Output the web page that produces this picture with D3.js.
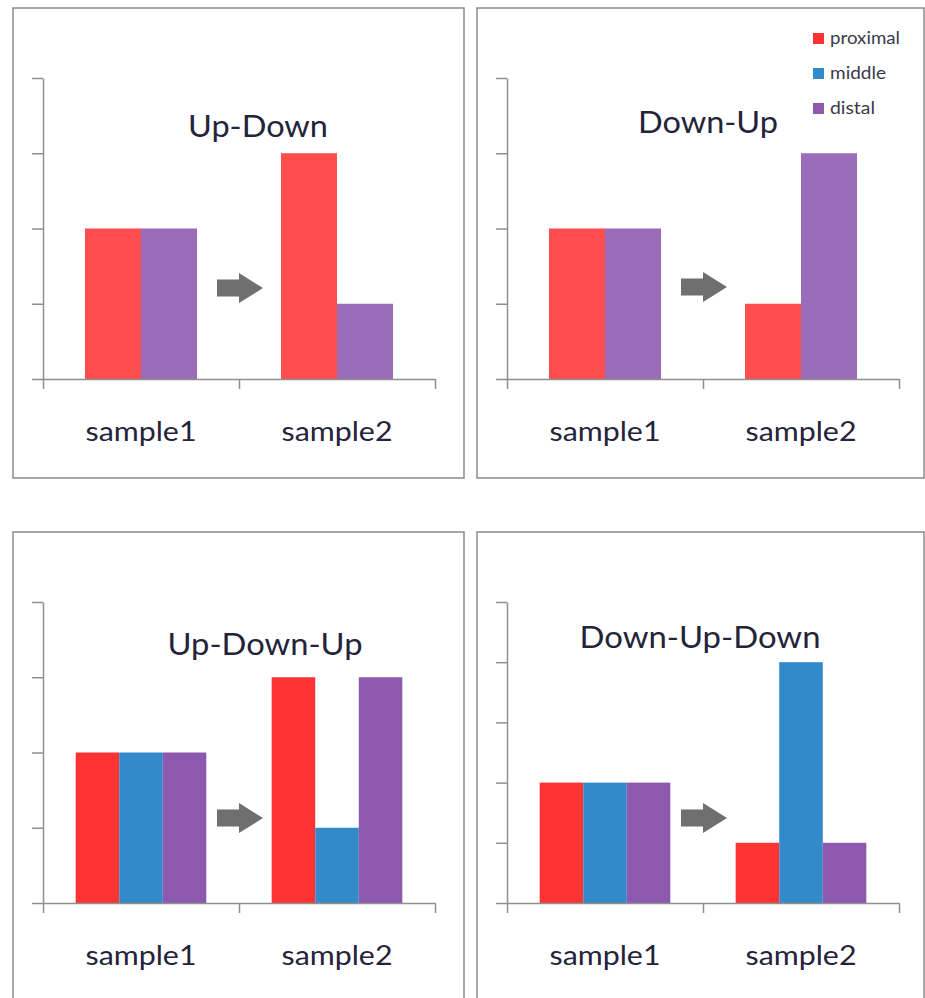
<!DOCTYPE html>
<html><head><meta charset="utf-8">
<script src="https://cdn.jsdelivr.net/npm/d3@7"></script>
<style>body{margin:0;background:#fff}svg{display:block}</style>
</head><body><svg id="c" width="925" height="998"></svg>
<script>
// ---------- data ----------
const categories = ["sample1", "sample2"];
const seriesNames = ["proximal", "middle", "distal"];
const panelTitles = ["Up-Down", "Down-Up", "Up-Down-Up", "Down-Up-Down"];
const yMaxValues = [4, 4, 4, 5];

const upDownProximal = [2, 3];
const upDownDistal = [2, 1];
const downUpProximal = [2, 1];
const downUpDistal = [2, 3];
const upDownUpProximal = [2, 3];
const upDownUpMiddle = [2, 1];
const upDownUpDistal = [2, 3];
const downUpDownProximal = [2, 1];
const downUpDownMiddle = [2, 4];
const downUpDownDistal = [2, 1];

// ---------- styles ----------
const topColors = { proximal: "#ff4c4c", distal: "#9a6cb9" };
const bottomColors = { proximal: "#ff3333", middle: "#338acb", distal: "#8c59af" };
const legendColors = { proximal: "#ff3333", middle: "#338acb", distal: "#8c59af" };
const FONT = "Lato, 'Open Sans', sans-serif";
const TEXT = "#23233a";
const AXIS = "#8f8f8f";

const panels = [
  { title: panelTitles[0], yMax: yMaxValues[0], series: [
    { name: "proximal", values: upDownProximal, color: topColors.proximal },
    { name: "distal", values: upDownDistal, color: topColors.distal }] },
  { title: panelTitles[1], yMax: yMaxValues[1], series: [
    { name: "proximal", values: downUpProximal, color: topColors.proximal },
    { name: "distal", values: downUpDistal, color: topColors.distal }] },
  { title: panelTitles[2], yMax: yMaxValues[2], series: [
    { name: "proximal", values: upDownUpProximal, color: bottomColors.proximal },
    { name: "middle", values: upDownUpMiddle, color: bottomColors.middle },
    { name: "distal", values: upDownUpDistal, color: bottomColors.distal }] },
  { title: panelTitles[3], yMax: yMaxValues[3], series: [
    { name: "proximal", values: downUpDownProximal, color: bottomColors.proximal },
    { name: "middle", values: downUpDownMiddle, color: bottomColors.middle },
    { name: "distal", values: downUpDownDistal, color: bottomColors.distal }] }
];

// ---------- layout ----------
const frames = [
  { x: 13, y: 8, w: 451, h: 470 },
  { x: 477, y: 8, w: 447, h: 470 },
  { x: 13, y: 532, w: 451, h: 480 },
  { x: 477, y: 532, w: 447, h: 480 }
];
const titlePos = [
  { dx: 245, dy: 129, len: 140 },
  { dx: 231, dy: 125, len: 140 },
  { dx: 252, dy: 123, len: 195 },
  { dx: 223, dy: 116, len: 241 }
];
const arrowRise = [91, 92, 85, 85];
const legendLen = [70, 56, 45];

const svg = d3.select("#c");

panels.forEach((p, i) => {
  const f = frames[i];
  const g = svg.append("g");

  g.append("rect").attr("x", f.x).attr("y", f.y).attr("width", f.w).attr("height", f.h)
    .attr("fill", "none").attr("stroke", "#8a8a8a").attr("stroke-width", 1.5);

  const x0 = f.x + 30, x1 = f.x + 422;
  const base = f.y + 371, top = f.y + 70;

  const x = d3.scaleBand().domain(categories).range([x0, x1]).padding(0);
  const y = d3.scaleLinear().domain([0, p.yMax]).range([base, top]);
  const names = p.series.map(s => s.name);
  const inner = d3.scaleBand().domain(names).range([0, x.bandwidth()])
    .paddingInner(0).paddingOuter(0.75);

  // bars
  p.series.forEach(s => {
    g.selectAll(null).data(categories.map((c, k) => ({ c, v: s.values[k] })))
      .join("rect")
      .attr("x", d => x(d.c) + inner(s.name))
      .attr("y", d => y(d.v))
      .attr("width", inner.bandwidth())
      .attr("height", d => base - y(d.v))
      .attr("fill", s.color);
  });

  // y axis
  const ya = g.append("g").attr("transform", `translate(${x0},0)`)
    .call(d3.axisLeft(y).ticks(p.yMax).tickSize(11).tickSizeOuter(0).tickFormat(""));
  ya.selectAll("path,line").attr("stroke", AXIS).attr("stroke-width", 1.5);

  // x axis (category boundaries as tick marks, like the original)
  const xb = d3.scaleLinear().domain([0, categories.length]).range([x0, x1]);
  const xa = g.append("g").attr("transform", `translate(0,${base})`)
    .call(d3.axisBottom(xb).tickValues(d3.range(categories.length + 1)).tickSize(10).tickSizeOuter(0).tickFormat(""));
  xa.selectAll("path,line").attr("stroke", AXIS).attr("stroke-width", 1.5);

  // category labels
  g.selectAll(null).data(categories).join("text")
    .attr("x", d => x(d) + x.bandwidth() / 2)
    .attr("y", base + 62)
    .attr("text-anchor", "middle")
    .attr("font-family", FONT).attr("font-size", 27).attr("fill", TEXT)
    .attr("textLength", 111).attr("lengthAdjust", "spacingAndGlyphs")
    .text(d => d);

  // title
  const t = titlePos[i];
  g.append("text").attr("x", f.x + t.dx).attr("y", f.y + t.dy)
    .attr("text-anchor", "middle")
    .attr("font-family", FONT).attr("font-size", 30).attr("fill", TEXT)
    .attr("textLength", t.len).attr("lengthAdjust", "spacingAndGlyphs")
    .text(p.title);

  // arrow between samples
  const cx = xb(1) + 1, cy = base - arrowRise[i];
  const ar = [[-23, -8.5], [-1, -8.5], [-1, -15], [23, 0], [-1, 15], [-1, 8.5], [-23, 8.5]];
  g.append("path")
    .attr("d", "M" + ar.map(d => [cx + d[0], cy + d[1]].join(",")).join("L") + "Z")
    .attr("fill", "#6f6f6f");
});

// legend (in the Down-Up panel)
const lg = svg.append("g");
seriesNames.forEach((n, k) => {
  const by = 44 + k * 35;
  lg.append("rect").attr("x", 813).attr("y", by - 11).attr("width", 11).attr("height", 11)
    .attr("fill", legendColors[n]);
  lg.append("text").attr("x", 830).attr("y", by)
    .attr("font-family", FONT).attr("font-size", 18).attr("fill", "#3a3a4a")
    .attr("textLength", legendLen[k]).attr("lengthAdjust", "spacingAndGlyphs")
    .text(n);
});
</script>
</body></html>
